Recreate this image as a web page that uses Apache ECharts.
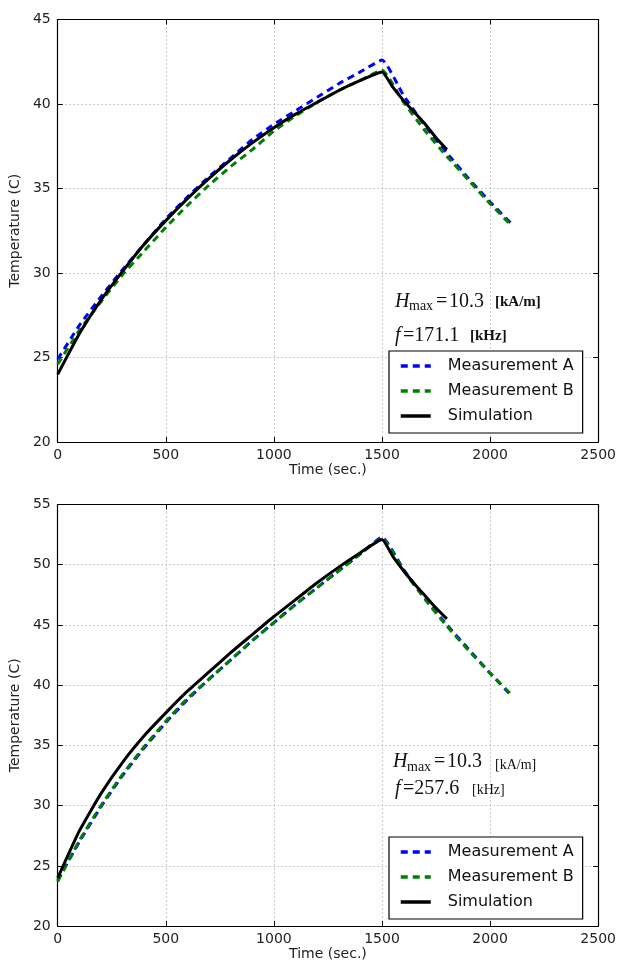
<!DOCTYPE html>
<html>
<head>
<meta charset="utf-8">
<script src="https://cdn.jsdelivr.net/npm/echarts@6/dist/echarts.min.js"></script>
<style>
html,body{margin:0;padding:0;background:#fff;}
#c{width:619px;height:962px;}
</style>
</head>
<body>
<div id="c"></div>
<script>
// ---------- data ----------
var timeRise = [0,100,200,300,400,500,600,700,800,900,1000,1100,1200,1300,1400,1500];
var timeDecayMeas = [1600,1700,1800,1900,2000,2100];
var timeDecaySim = [1550,1600,1650,1700,1750,1800];

// top chart (H=10.3 kA/m, f=171.1 kHz)
var topA_rise = [24.9,26.9,28.6,30.2,31.7,33.2,34.5,35.7,36.8,37.9,38.8,39.6,40.4,41.2,41.9,42.6];
var topA_decay = [40.5,38.7,37.1,35.6,34.2,32.9];
var topB_rise = [24.6,26.6,28.3,29.9,31.3,32.7,34.0,35.2,36.3,37.3,38.4,39.3,40.1,40.8,41.4,42.0];
var topB_decay = [40.1,38.4,36.9,35.5,34.1,32.8];
var topSim_rise = [24.0,26.4,28.4,30.1,31.7,33.1,34.4,35.6,36.7,37.7,38.6,39.4,40.1,40.8,41.4,41.9];
var topSim_decay = [41.0,40.2,39.5,38.8,38.0,37.3];

// bottom chart (H=10.3 kA/m, f=257.6 kHz)
var botA_rise = [23.8,27.0,29.9,32.5,34.8,36.9,38.8,40.5,42.1,43.7,45.2,46.7,48.1,49.5,50.9,52.3];
var botA_decay = [49.6,47.2,45.0,43.0,41.0,39.1];
var botB_rise = [23.7,27.1,30.0,32.6,34.9,37.0,38.9,40.5,42.1,43.7,45.2,46.7,48.1,49.5,50.9,52.2];
var botB_decay = [49.5,47.1,44.9,42.9,41.0,39.2];
var botSim_rise = [24.0,27.9,31.0,33.6,35.8,37.7,39.5,41.1,42.7,44.2,45.7,47.1,48.5,49.8,51.0,52.1];
var botSim_decay = [50.7,49.5,48.4,47.4,46.4,45.5];

var seriesNames = ['Measurement A','Measurement B','Simulation'];
var xName = 'Time (sec.)';
var yName = 'Temperature (C)';

function pairs(t1, v1, t2, v2) {
  var out = [];
  for (var i = 0; i < t1.length; i++) out.push([t1[i], v1[i]]);
  for (var j = 0; j < t2.length; j++) out.push([t2[j], v2[j]]);
  return out;
}

var chart = echarts.init(document.getElementById('c'), null, {renderer: 'canvas'});

var tickFont = {fontFamily: 'DejaVu Sans', fontSize: 14, color: '#222', formatter: function (v) { return String(v); }};
var gridLine = {show: true, lineStyle: {color: '#999', type: [1, 3], width: 1}};
var axLine = {show: true, onZero: false, lineStyle: {color: '#000', width: 1.2}};
var tick = {show: true, inside: true, length: 5, lineStyle: {color: '#000'}};

function xMain(g) {
  return {type: 'value', gridIndex: g, min: 0, max: 2500, interval: 500, position: 'bottom',
    axisLine: axLine, axisTick: tick, splitLine: gridLine,
    axisLabel: Object.assign({margin: 6}, tickFont),
    name: xName, nameLocation: 'middle', nameGap: 20,
    nameTextStyle: {fontFamily: 'DejaVu Sans', fontSize: 14, color: '#222'}};
}
function xTop(g) {
  return {type: 'value', gridIndex: g, min: 0, max: 2500, interval: 500, position: 'top',
    axisLine: axLine, axisTick: tick, splitLine: {show: false}, axisLabel: {show: false}};
}
function yMain(g, max) {
  return {type: 'value', gridIndex: g, min: 20, max: max, interval: 5, position: 'left',
    axisLine: axLine, axisTick: tick, splitLine: gridLine,
    axisLabel: Object.assign({margin: 7}, tickFont),
    name: yName, nameLocation: 'middle', nameGap: 24, nameRotate: 90,
    nameTextStyle: {fontFamily: 'DejaVu Sans', fontSize: 14, color: '#222'}};
}
function yRight(g, max) {
  return {type: 'value', gridIndex: g, min: 20, max: max, interval: 5, position: 'right',
    axisLine: axLine, axisTick: tick, splitLine: {show: false}, axisLabel: {show: false}};
}

var dashA = {color: '#0000ff', width: 3, type: [7, 5]};
var dashB = {color: '#008000', width: 3, type: [7, 5]};
var solid = {color: '#000000', width: 3, type: 'solid'};

function mkSeries(name, data, xi, yi, ls) {
  return {name: name, type: 'line', xAxisIndex: xi, yAxisIndex: yi, data: data,
    symbol: 'none', showSymbol: false, smooth: 0.15, lineStyle: ls, itemStyle: {color: ls.color},
    animation: false, clip: true};
}

function legendAt(top) {
  return {show: true, orient: 'vertical', left: 389, top: top,
    data: seriesNames, selectedMode: false,
    backgroundColor: '#fff', borderColor: '#000', borderWidth: 1.2, borderRadius: 0,
    padding: [6, 9, 8, 10], itemWidth: 30, itemHeight: 10, itemGap: 7,
    itemStyle: {opacity: 0},
    lineStyle: {width: 3.5},
    textStyle: {fontFamily: 'DejaVu Sans', fontSize: 16, color: '#111', lineHeight: 18, padding: [0, 0, 0, 12]}};
}

function txt(x, cy, s, font) {
  return {type: 'text', x: x, y: cy, silent: true, z: 100,
    style: {text: s, font: font, fill: '#111', align: 'left', verticalAlign: 'middle'}};
}
var serifI = 'italic 20px "Liberation Serif"';
var serif = '20px "Liberation Serif"';
var sub = '14px "Liberation Serif"';

var option = {
  backgroundColor: '#fff',
  animation: false,
  grid: [
    {left: 55, right: 18, top: 19.5, height: 422.5, containLabel: false},
    {left: 55, right: 18, top: 504.5, height: 422.5, containLabel: false}
  ],
  xAxis: [xMain(0), xTop(0), xMain(1), xTop(1)],
  yAxis: [yMain(0, 45), yRight(0, 45), yMain(1, 55), yRight(1, 55)],
  legend: [legendAt(351), legendAt(837)],
  series: [
    mkSeries(seriesNames[0], pairs(timeRise, topA_rise, timeDecayMeas, topA_decay), 0, 0, dashA),
    mkSeries(seriesNames[1], pairs(timeRise, topB_rise, timeDecayMeas, topB_decay), 0, 0, dashB),
    mkSeries(seriesNames[2], pairs(timeRise, topSim_rise, timeDecaySim, topSim_decay), 0, 0, solid),
    mkSeries(seriesNames[0], pairs(timeRise, botA_rise, timeDecayMeas, botA_decay), 2, 2, dashA),
    mkSeries(seriesNames[1], pairs(timeRise, botB_rise, timeDecayMeas, botB_decay), 2, 2, dashB),
    mkSeries(seriesNames[2], pairs(timeRise, botSim_rise, timeDecaySim, botSim_decay), 2, 2, solid)
  ],
  graphic: [
    // top annotation
    txt(395, 301.5, 'H', serifI),
    txt(409, 306, 'max', sub),
    txt(436, 301.5, '=', serif),
    txt(449, 301.5, '10.3', serif),
    txt(495, 302.5, '[kA/m]', 'bold 15px "Liberation Serif"'),
    txt(395, 336, 'f', serifI),
    txt(403, 336, '=171.1', serif),
    txt(470, 336, '[kHz]', 'bold 15px "Liberation Serif"'),
    // bottom annotation
    txt(393, 762, 'H', serifI),
    txt(407, 767, 'max', sub),
    txt(434, 762, '=', serif),
    txt(447, 762, '10.3', serif),
    txt(495, 765, '[kA/m]', '14px "Liberation Serif"'),
    txt(395, 789, 'f', serifI),
    txt(403, 789, '=257.6', serif),
    txt(472, 790, '[kHz]', '14px "Liberation Serif"')
  ]
};
chart.setOption(option);
</script>
</body>
</html>
